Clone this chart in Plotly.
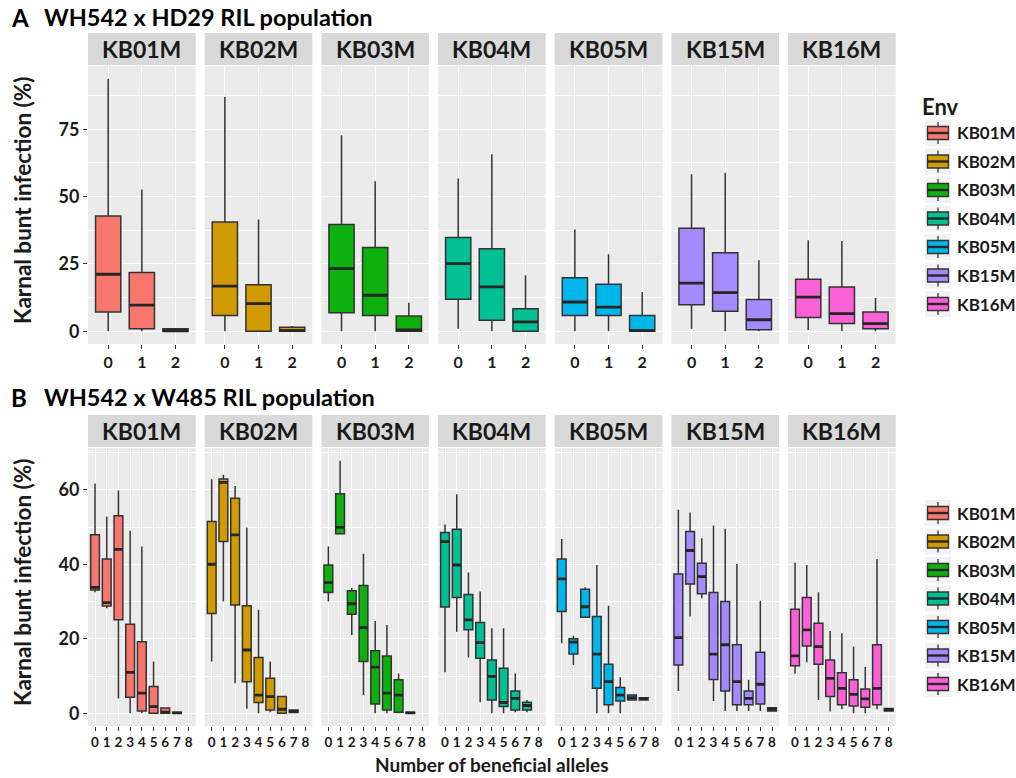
import plotly.graph_objects as go

W, H = 1016, 778

ENVS = ["KB01M", "KB02M", "KB03M", "KB04M", "KB05M", "KB15M", "KB16M"]
COLORS = ["#F8766D", "#D09A00", "#0DB10D", "#00C094", "#00B6EB", "#A58AFF", "#FB61D7"]

# ---------------- Panel A: WH542 x HD29 (alleles 0,1,2) ----------------
A_CATS = [0, 1, 2]
A_LOW = [[0, 0, 0], [0, 0, 0], [0, 0, 0], [1.0, 0, 0], [0, 0, 0], [1.0, 0, 0], [0.5, 0, 0]]
A_Q1 = [[7.2, 1.0, 0], [5.9, 0, 0], [6.9, 5.9, 0], [11.9, 4.1, 0], [5.9, 5.9, 0], [9.9, 7.5, 0.6], [5.1, 2.9, 1.0]]
A_MED = [[21.2, 9.7, 0.2], [16.8, 10.3, 0.3], [23.3, 13.4, 0.5], [25.1, 16.5, 3.5], [10.9, 9.0, 0.3], [17.9, 14.4, 4.3], [12.7, 6.6, 2.9]]
A_Q3 = [[42.8, 21.8, 1.0], [40.6, 17.3, 1.5], [39.7, 31.1, 5.7], [34.8, 30.7, 8.4], [19.9, 17.5, 5.9], [38.3, 29.2, 11.8], [19.3, 16.5, 7.2]]
A_HIGH = [[93.8, 52.7, 1.2], [87.0, 41.5, 2.0], [72.8, 55.7, 10.6], [56.7, 65.7, 20.8], [37.8, 28.6, 14.6], [58.3, 58.9, 26.4], [33.8, 33.5, 12.4]]

# ---------------- Panel B: WH542 x W485 (alleles 0..8) ----------------
B_CATS = [0, 1, 2, 3, 4, 5, 6, 7, 8]
B_LOW = [
    [32.5, 28.2, 4.0, 0, 0, 0, 0, 0, None],
    [13.9, 30.0, 8.1, 1.2, 0, 0.3, 0, 0.2, None],
    [30.0, 48.2, 21.0, 4.9, 0, 0, 0, 0, None],
    [11.0, 21.9, 15.0, 3.0, 0, 0, 0.3, 0.3, None],
    [18.8, 13.0, 25.8, 0, 0, 0, 3.4, 3.6, None],
    [6.0, 26.0, 30.9, 3.3, 0.6, 0.6, 0.6, 0.6, 0.6],
    [10.6, 13.7, 3.6, 0.5, 1.1, 0, 0, 1.1, 0.6],
]
B_Q1 = [
    [33.1, 28.8, 25.1, 4.3, 0.6, 0, 0, 0, None],
    [26.8, 46.1, 29.1, 8.5, 2.9, 0.9, 0, 0.2, None],
    [32.4, 48.2, 26.6, 13.9, 2.5, 0.9, 0.3, 0, None],
    [28.5, 31.1, 22.4, 14.8, 3.6, 1.8, 0.9, 0.9, None],
    [27.3, 15.9, 25.8, 6.7, 2.3, 3.3, 3.6, 3.6, None],
    [13.0, 34.7, 32.1, 9.1, 6.0, 2.3, 2.3, 2.5, 0.6],
    [12.8, 18.1, 13.2, 4.5, 2.3, 2.0, 1.6, 2.3, 0.6],
]
B_MED = [
    [33.8, 29.7, 44.0, 11.0, 5.4, 1.8, 0.3, 0.1, None],
    [40.0, 62.0, 47.9, 17.0, 4.9, 4.5, 1.1, 0.5, None],
    [35.1, 49.9, 29.4, 23.0, 12.4, 5.4, 4.9, 0.1, None],
    [46.1, 39.8, 25.1, 19.0, 9.9, 2.9, 4.0, 2.1, None],
    [36.1, 19.1, 28.6, 15.9, 8.5, 4.9, 4.2, 4.0, None],
    [20.3, 43.7, 36.7, 15.9, 18.4, 8.5, 4.0, 7.8, 1.1],
    [15.4, 22.4, 17.9, 9.4, 6.7, 5.1, 3.9, 6.7, 1.0],
]
B_Q3 = [
    [47.9, 41.4, 53.0, 23.9, 19.2, 7.2, 1.4, 0.3, None],
    [51.5, 62.9, 57.7, 28.9, 15.0, 9.4, 4.5, 0.9, None],
    [39.8, 58.9, 32.9, 34.3, 16.8, 15.4, 9.0, 0.3, None],
    [48.5, 49.4, 31.9, 24.4, 14.3, 12.1, 6.0, 3.0, None],
    [41.4, 20.0, 33.3, 26.0, 13.2, 6.9, 4.9, 4.2, None],
    [37.4, 48.8, 40.3, 32.4, 30.0, 18.4, 6.0, 16.4, 1.5],
    [27.9, 31.1, 24.2, 14.3, 10.9, 9.0, 6.5, 18.4, 1.3],
]
B_HIGH = [
    [61.7, 52.8, 59.8, 49.0, 44.8, 13.9, 1.6, 0.4, None],
    [62.8, 64.0, 61.0, 49.9, 27.8, 13.9, 4.6, 1.0, None],
    [44.8, 67.8, 33.6, 42.8, 24.8, 23.7, 10.7, 0.3, None],
    [50.7, 58.8, 37.8, 32.7, 22.8, 22.8, 10.7, 3.6, None],
    [46.8, 20.8, 33.8, 39.8, 28.9, 9.7, 5.1, 4.3, None],
    [54.6, 53.9, 47.0, 50.4, 49.5, 40.1, 9.0, 30.2, 1.6],
    [40.5, 39.8, 32.5, 22.1, 21.5, 17.9, 12.4, 41.4, 1.4],
]

A_YTICKS = [0, 25, 50, 75]
B_YTICKS = [0, 20, 40, 60]

FONT = "Lato"
DARK = "#1A1A1A"
BOXW = 0.75


def px(x):
    return x / W


def py(y):
    return 1 - y / H


fig = go.Figure()

PANEL_LEFT0 = 88
PANEL_STEP = 116.67
PANEL_W = 107.7

rows = [
    dict(cats=A_CATS, lo=A_LOW, q1=A_Q1, med=A_MED, q3=A_Q3, hi=A_HIGH,
         top=66, bot=344, yr=[-4.7, 98.5], ytk=A_YTICKS, strip=(33, 65), xfs=16),
    dict(cats=B_CATS, lo=B_LOW, q1=B_Q1, med=B_MED, q3=B_Q3, hi=B_HIGH,
         top=448, bot=726, yr=[-3.4, 71.2], ytk=B_YTICKS, strip=(415, 447), xfs=13.5),
]

shapes = []
annotations = []

for r, R in enumerate(rows):
    ncat = len(R["cats"])
    for i, env in enumerate(ENVS):
        idx = r * 7 + i + 1
        xa = "x" if idx == 1 else f"x{idx}"
        ya = "y" if idx == 1 else f"y{idx}"
        keep = [k for k in range(ncat) if R["med"][i][k] is not None]
        xs = [R["cats"][k] for k in keep]
        fig.add_trace(go.Box(
            x=xs,
            q1=[R["q1"][i][k] for k in keep],
            median=[R["med"][i][k] for k in keep],
            q3=[R["q3"][i][k] for k in keep],
            lowerfence=[R["lo"][i][k] for k in keep],
            upperfence=[R["hi"][i][k] for k in keep],
            width=BOXW, whiskerwidth=0, boxpoints=False,
            fillcolor=COLORS[i], line=dict(color="#333333", width=1.5),
            xaxis=xa, yaxis=ya, showlegend=False, hoverinfo="skip",
        ))
        # thicker median bars (ggplot style)
        mx, my = [], []
        for k in keep:
            c = R["cats"][k]
            m = R["med"][i][k]
            mx += [c - BOXW / 2, c + BOXW / 2, None]
            my += [m, m, None]
        fig.add_trace(go.Scatter(x=mx, y=my, mode="lines",
                                 line=dict(color="#262626", width=2.8),
                                 xaxis=xa, yaxis=ya, showlegend=False, hoverinfo="skip"))

        left = PANEL_LEFT0 + i * PANEL_STEP
        right = left + PANEL_W
        xkey = "xaxis" if idx == 1 else f"xaxis{idx}"
        ykey = "yaxis" if idx == 1 else f"yaxis{idx}"
        fig.layout[xkey] = dict(
            domain=[px(left), px(right)], anchor=ya,
            range=[-0.6, ncat - 0.4], tickmode="array",
            tickvals=R["cats"], ticktext=[str(c) for c in R["cats"]],
            showgrid=True, gridcolor="white", gridwidth=1.2, zeroline=False,
            ticks="outside", ticklen=4, tickwidth=1.2, tickcolor="#333333",
            tickfont=dict(family=FONT, size=R["xfs"], color=DARK, weight="bold"),
            showline=False, fixedrange=True,
        )
        first = (i == 0)
        fig.layout[ykey] = dict(
            domain=[py(R["bot"]), py(R["top"])], anchor=xa,
            range=R["yr"], tickmode="array", tickvals=R["ytk"],
            ticktext=[str(t) for t in R["ytk"]],
            showgrid=True, gridcolor="white", gridwidth=1.2, zeroline=False,
            minor=dict(tickvals=[(R["ytk"][j] + R["ytk"][j + 1]) / 2 for j in range(len(R["ytk"]) - 1)]
                       + [R["ytk"][-1] + (R["ytk"][1] - R["ytk"][0]) / 2],
                       showgrid=True, gridcolor="white", gridwidth=0.6, ticks=""),
            ticks="outside" if first else "", ticklen=4, tickwidth=1.2, tickcolor="#333333",
            showticklabels=first,
            tickfont=dict(family=FONT, size=18, color=DARK, weight="bold"),
            fixedrange=True,
        )
        # strip
        shapes.append(dict(type="rect", xref="paper", yref="paper",
                           x0=px(left), x1=px(right), y0=py(R["strip"][1]), y1=py(R["strip"][0]),
                           fillcolor="#D9D9D9", line=dict(width=0), layer="below"))
        annotations.append(dict(xref="paper", yref="paper", x=px((left + right) / 2),
                                y=py((R["strip"][0] + R["strip"][1]) / 2), text=env,
                                showarrow=False, xanchor="center", yanchor="middle",
                                font=dict(family=FONT, size=23, color=DARK, weight="bold")))

    # y axis title
    annotations.append(dict(xref="paper", yref="paper", x=px(22), y=py((R["top"] + R["bot"]) / 2 - 4),
                            text="Karnal bunt infection (%)", textangle=-90, showarrow=False,
                            xanchor="center", yanchor="middle",
                            font=dict(family=FONT, size=22.5, color=DARK, weight="bold")))

# panel titles
for lab, title, yc in [("A", "WH542 x HD29 RIL population", 17), ("B", "WH542 x W485 RIL population", 397)]:
    annotations.append(dict(xref="paper", yref="paper", x=px(9), y=py(yc), text=lab, showarrow=False,
                            xanchor="left", yanchor="middle",
                            font=dict(family=FONT, size=24, color="black", weight="bold")))
    annotations.append(dict(xref="paper", yref="paper", x=px(42), y=py(yc), text=title, showarrow=False,
                            xanchor="left", yanchor="middle",
                            font=dict(family=FONT, size=23.5, color="black", weight="bold")))

# x axis title
annotations.append(dict(xref="paper", yref="paper", x=px(492), y=py(764), text="Number of beneficial alleles",
                        showarrow=False, xanchor="center", yanchor="middle",
                        font=dict(family=FONT, size=19, color=DARK, weight="bold")))

# legends (manual, ggplot-style keys)
annotations.append(dict(xref="paper", yref="paper", x=px(920), y=py(106), text="Env", showarrow=False,
                        xanchor="left", yanchor="middle",
                        font=dict(family=FONT, size=22, color=DARK, weight="bold")))
for start, step in [(133, 28.5), (513, 28.5)]:
    for i, env in enumerate(ENVS):
        c = start + i * step
        shapes.append(dict(type="rect", xref="paper", yref="paper", x0=px(925), x1=px(951),
                           y0=py(c + 13), y1=py(c - 13), fillcolor="#F2F2F2", line=dict(width=0)))
        shapes.append(dict(type="line", xref="paper", yref="paper", x0=px(938), x1=px(938),
                           y0=py(c + 11), y1=py(c - 11), line=dict(color="#333333", width=1.3)))
        shapes.append(dict(type="rect", xref="paper", yref="paper", x0=px(927.5), x1=px(948.5),
                           y0=py(c + 6.5), y1=py(c - 6.5), fillcolor=COLORS[i],
                           line=dict(color="#333333", width=1.3)))
        shapes.append(dict(type="line", xref="paper", yref="paper", x0=px(927.5), x1=px(948.5),
                           y0=py(c), y1=py(c), line=dict(color="#262626", width=2.4)))
        annotations.append(dict(xref="paper", yref="paper", x=px(955), y=py(c), text=env, showarrow=False,
                                xanchor="left", yanchor="middle",
                                font=dict(family=FONT, size=17, color=DARK, weight="bold")))

fig.update_layout(
    width=W, height=H, margin=dict(l=0, r=0, t=0, b=0),
    paper_bgcolor="white", plot_bgcolor="#EBEBEB",
    shapes=shapes, annotations=annotations, showlegend=False,
    font=dict(family=FONT),
)

fig.write_html(
    "out.html",
    config={"displayModeBar": False},
    post_script="document.body.style.margin='0';document.body.style.padding='0';"
                "document.body.style.overflow='hidden';",
)
